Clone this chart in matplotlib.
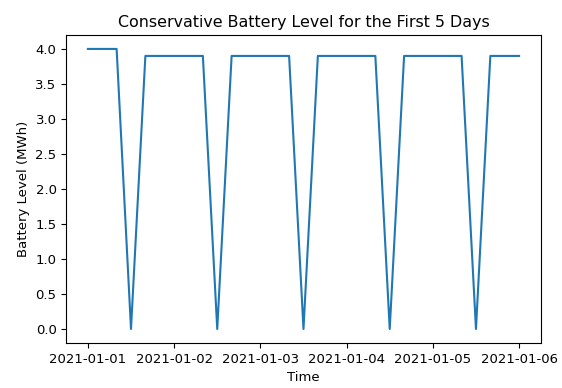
import pandas as pd
import matplotlib.pyplot as plt
import matplotlib.dates as mdates

# battery level sampled every 4 hours over the first 5 days
times = pd.date_range('2021-01-01 00:00', '2021-01-06 00:00', freq='4h')
day1 = [4.0, 4.0, 4.0, 0.0, 3.9, 3.9]
day_rest = [3.9, 3.9, 3.9, 0.0, 3.9, 3.9]
level = day1 + day_rest * 4 + [3.9]

plt.rcParams['font.size'] = 9.5

fig = plt.figure(figsize=(5.62, 3.88), dpi=100)
ax = fig.add_axes([0.118, 0.116, 0.844, 0.794])
ax.plot(times, level)
ax.set_title('Conservative Battery Level for the First 5 Days', fontsize=11.4)
ax.set_xlabel('Time')
ax.set_ylabel('Battery Level (MWh)')
ax.xaxis.set_major_locator(mdates.DayLocator())
ax.xaxis.set_major_formatter(mdates.DateFormatter('%Y-%m-%d'))

plt.savefig('out.png', dpi=100)
